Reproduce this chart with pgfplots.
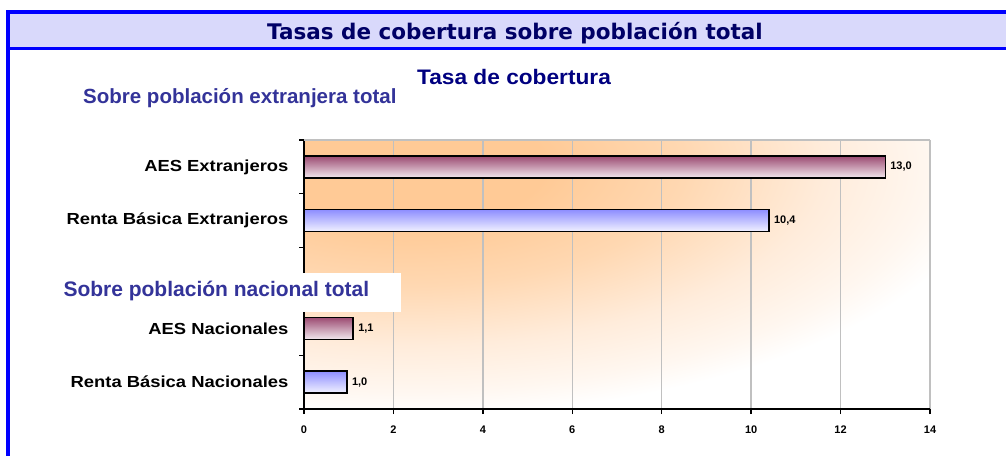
\documentclass[border=0pt]{standalone}
\usepackage{fontspec}
\setmainfont{Liberation Sans}
\newfontfamily\widesans{Liberation Sans}[FakeStretch=1.15]
\newfontfamily\subfont{Liberation Sans}[FakeStretch=1.08]
\newfontfamily\titlefont{DejaVu Sans}
\usepackage{pgfplots}
\pgfplotsset{compat=1.18}

\definecolor{frameblue}{HTML}{0000FF}
\definecolor{bandlav}{HTML}{D9D9FB}
\definecolor{titlenavy}{HTML}{000066}
\definecolor{subnavy}{HTML}{000080}
\definecolor{secblue}{HTML}{333399}
\definecolor{aesdark}{HTML}{9B4A71}
\definecolor{aesmid}{HTML}{D2AFC0}
\definecolor{aeslight}{HTML}{F2E8EE}
\definecolor{rbdark}{HTML}{8E8EFF}
\definecolor{rbmid}{HTML}{C8C8FF}
\definecolor{rblight}{HTML}{F2F2FF}
\definecolor{bgA}{HTML}{FFCA96}
\definecolor{bgB}{HTML}{FFD8B2}
\definecolor{bgC}{HTML}{FFECDB}
\definecolor{bgD}{HTML}{FFF7F0}
\definecolor{gridgray}{HTML}{C0C0C0}

% orange glow; the shaded path covers the inner 50bp of the shading
\pgfdeclareradialshading{bgshade}{\pgfpoint{0bp}{0bp}}{%
  color(0bp)=(bgA); color(6bp)=(bgA); color(12bp)=(bgB);
  color(18bp)=(bgC); color(22.5bp)=(bgD); color(25bp)=(white); color(50bp)=(white)}

\pgfplotsset{
  aesbar/.style={draw=black, line width=1.5pt,
    top color=aesdark, middle color=aesmid, bottom color=aeslight},
  rbbar/.style={draw=black, line width=1.5pt,
    top color=rbdark, middle color=rbmid, bottom color=rblight},
}

\begin{document}
\begin{tikzpicture}
  \path[use as bounding box, fill=white] (0pt,0pt) rectangle (1006pt,456pt);

  % frame and header band
  \fill[bandlav] (10pt,409pt) rectangle (1006pt,442pt);
  \fill[frameblue] (6pt,442pt) rectangle (1006pt,446pt);
  \fill[frameblue] (6pt,406pt) rectangle (1006pt,409pt);
  \fill[frameblue] (6pt,0pt) rectangle (10pt,446pt);
  \node[anchor=base, inner sep=0pt, text=titlenavy,
        font=\titlefont\fontsize{21.5}{21.5}\selectfont\bfseries]
    at (515pt,416pt) {Tasas de cobertura sobre población total};

  \node[anchor=base west, inner sep=0pt, text=subnavy,
        font=\subfont\fontsize{21}{21}\selectfont\bfseries]
    at (417pt,371pt) {Tasa de cobertura};
  \node[anchor=base west, inner sep=0pt, text=secblue,
        font=\fontsize{20.5}{20.5}\selectfont\bfseries]
    at (83pt,352.3pt) {Sobre población extranjera total};

  % plot area background
  \begin{scope}
    \clip (304pt,47pt) rectangle (930pt,316pt);
    \shade[shading=bgshade] (-180pt,40pt) rectangle (990pt,540pt);
  \end{scope}

  \begin{axis}[
    at={(304pt,47pt)}, anchor=south west,
    scale only axis, width=626pt, height=269pt,
    clip=false,
    xmin=0, xmax=14, ymin=-0.5, ymax=4.5, y dir=reverse,
    axis x line*=bottom, axis y line*=left,
    axis line style={black, line width=1.6pt},
    xtick={0,2,...,14},
    xmajorgrids, major grid style={gridgray, line width=1.3pt},
    tick align=outside, major tick length=5pt,
    tick style={black, line width=1.3pt},
    ytick={-0.5,0.5,1.5,2.5,3.5,4.5}, yticklabels={},
    extra y ticks={0,1,3,4},
    extra y tick labels={AES Extranjeros, Renta Básica Extranjeros,
                         AES Nacionales, Renta Básica Nacionales},
    extra y tick style={major tick length=0pt, grid=none,
      yticklabel style={font=\widesans\fontsize{16}{16}\selectfont\bfseries,
                        xshift=-12pt}},
    /pgf/number format/assume math mode=true,
    xticklabel style={font=\fontsize{11}{11}\selectfont\bfseries, yshift=-8pt},
    xbar, bar width=22pt, bar shift=0pt,
    point meta=x,
    nodes near coords={\pgfmathprintnumber[fixed,fixed zerofill,precision=1,use comma]{\pgfplotspointmeta}},
    nodes near coords align={horizontal},
    every node near coord/.append style={font=\fontsize{11}{11}\selectfont\bfseries, black, xshift=1pt},
  ]
    % one plot per bar so each bar gets its own shading
    \addplot[aesbar] coordinates {(13.0,0)};
    \addplot[rbbar]  coordinates {(10.4,1)};
    \addplot[aesbar] coordinates {(1.1,3)};
    \addplot[rbbar]  coordinates {(0.96,4)};
    \draw[gridgray, line width=1.3pt] (axis cs:0,-0.5) -- (axis cs:14,-0.5);
  \end{axis}

  % white box behind the second section header
  \fill[white] (55pt,144pt) rectangle (401pt,183pt);
  \node[anchor=base west, inner sep=0pt, text=secblue,
        font=\fontsize{21}{21}\selectfont\bfseries]
    at (63.3pt,159.3pt) {Sobre población nacional total};
\end{tikzpicture}
\end{document}
